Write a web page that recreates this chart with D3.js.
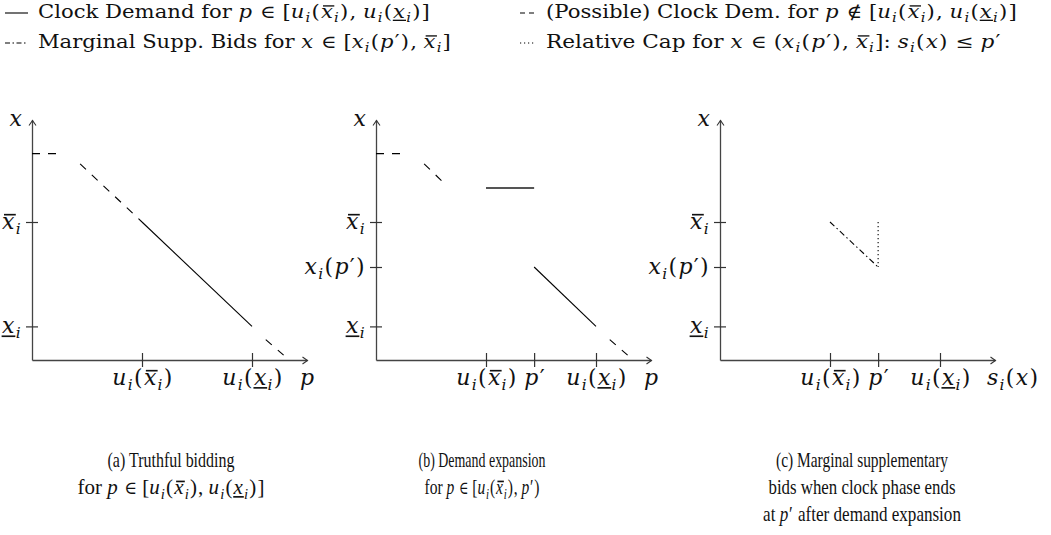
<!DOCTYPE html>
<html>
<head>
<meta charset="utf-8">
<script src="https://cdn.jsdelivr.net/npm/d3@7"></script>
<style>
body { margin: 0; background: #fff; }
svg { display: block; }
text { font-family: "DejaVu Serif", serif; fill: #111; }
.caption text { font-family: "Liberation Serif", serif; }
.caption tspan.sym { font-family: "DejaVu Serif", serif; }
</style>
</head>
<body>
<svg id="chart" width="1051" height="535"></svg>
<script>
// small helpers for the math-ish labels
const it = s => ({t: s, it: true, m: true});
const mr = s => ({t: s, m: true});
const rm = s => ({t: s});
const sy = s => ({t: s, sym: true});
const sb = s => ({t: s, it: true, sub: true, m: true});
const ov = s => ({t: s, it: true, deco: "over", m: true});
const un = s => ({t: s, it: true, deco: "under", m: true});

const U_BAR = [it("u"), sb("i"), mr("("), ov("x"), sb("i"), mr(")")];
const U_UNDER = [it("u"), sb("i"), mr("("), un("x"), sb("i"), mr(")")];
const P_PRIME = [it("p"), mr("′")];
const X_BAR = [ov("x"), sb("i")];
const X_UNDER = [un("x"), sb("i")];
const X_OF_P = [it("x"), sb("i"), mr("("), it("p"), mr("′"), mr(")")];
const S_OF_X = [it("s"), sb("i"), mr("("), it("x"), mr(")")];

// ---- data: price p on the horizontal axis, quantity x on the vertical ----
const priceTicksA = [4, 8];
const priceTicksBC = [4, 5.75, 8];
const priceLabelsA = [U_BAR, U_UNDER];
const priceLabelsBC = [U_BAR, P_PRIME, U_UNDER];

const qtyTicksA = [1.4, 5.75];
const qtyTicksBC = [1.4, 3.875, 5.75];
const qtyLabelsA = [X_UNDER, X_BAR];
const qtyLabelsBC = [X_UNDER, X_OF_P, X_BAR];

// panel (a)
const clockDemandA = [[4, 5.75], [8, 1.4]];
const possibleCapA = [[0, 8.6], [0.9, 8.6]];
const possibleHighA = [[1.75, 8.17], [4, 5.75]];
const possibleLowA = [[8.5, 0.85], [9.15, 0.2]];
// panel (b)
const clockDemandB = [[5.75, 3.875], [8, 1.4]];
const expansionB = [[4, 7.17], [5.75, 7.17]];
const possibleCapB = [[0, 8.6], [0.9, 8.6]];
const possibleHighB = [[1.75, 8.17], [2.45, 7.4]];
const possibleLowB = [[8.5, 0.85], [9.15, 0.2]];
// panel (c)
const suppBidsC = [[4, 5.75], [5.75, 3.875]];
const relCapC = [[5.75, 5.75], [5.75, 3.875]];

// legend and captions
const legendItems = [
  {kind: "solid", tokens: [rm("Clock Demand for "), it("p"), rm(" ∈ ["), ...U_BAR, rm(", "), ...U_UNDER, rm("]")]},
  {kind: "dashed", tokens: [rm("(Possible) Clock Dem. for "), it("p"), rm(" ∉ ["), ...U_BAR, rm(", "), ...U_UNDER, rm("]")]},
  {kind: "dashdot", tokens: [rm("Marginal Supp. Bids for "), it("x"), rm(" ∈ ["), ...X_OF_P, rm(", "), ...X_BAR, rm("]")]},
  {kind: "dotted", tokens: [rm("Relative Cap for "), it("x"), rm(" ∈ ("), ...X_OF_P, rm(", "), ...X_BAR, rm("]: "), ...S_OF_X, rm(" ≤ "), it("p"), mr("′")]}
];
const captionA = [[rm("(a) Truthful bidding")], [rm("for "), it("p"), rm(" "), sy("∈"), rm(" ["), ...U_BAR, rm(", "), ...U_UNDER, rm("]")]];
const captionB = [[rm("(b) Demand expansion")], [rm("for "), it("p"), rm(" "), sy("∈"), rm(" ["), ...U_BAR, rm(", "), it("p"), mr("′"), rm(")")]];
const captionC = [[rm("(c) Marginal supplementary")], [rm("bids when clock phase ends")], [rm("at "), it("p"), mr("′"), rm(" after demand expansion")]];

// ---- layout ----
const axisY0 = 360, plotW = 275, plotH = 240;
const dashes = {solid: null, dashed: "8,8", dashdot: "6,3,1.5,3", dotted: "1.2,2.8"};

const svg = d3.select("#chart");
svg.append("defs").append("marker")
  .attr("id", "arrow")
  .attr("viewBox", "-6 -5 8 10")
  .attr("markerUnits", "userSpaceOnUse")
  .attr("markerWidth", 8).attr("markerHeight", 10)
  .attr("refX", 0).attr("refY", 0)
  .attr("orient", "auto")
  .append("path")
  .attr("d", "M-5,-3.5L0,0L-5,3.5")
  .attr("fill", "none").attr("stroke", "#333").attr("stroke-width", 1.1);

// builds a text with italics, subscripts and over/underlined letters
function richText(parent, tokens, x, y, size, anchor, spacing, xh) {
  const g = parent.append("g");
  const t = g.append("text")
    .attr("x", x).attr("y", y)
    .attr("text-anchor", anchor || "start")
    .style("font-size", size + "px");
  const drop = size * 0.22;
  let inSub = false, idx = 0;
  const decos = [];
  tokens.forEach(tok => {
    const ts = t.append("tspan").text(tok.t);
    if (tok.it) ts.style("font-style", "italic");
    if (tok.sym) ts.attr("class", "sym").style("font-size", (size * 0.82) + "px");
    if (tok.m && spacing) ts.style("letter-spacing", spacing + "px");
    if (tok.sub) {
      ts.style("font-size", (size * 0.7) + "px");
      if (!inSub) { ts.attr("dy", drop); inSub = true; }
    } else if (inSub) {
      ts.attr("dy", -drop); inSub = false;
    }
    if (tok.deco) decos.push({idx, deco: tok.deco});
    idx += tok.t.length;
  });
  decos.forEach(d => {
    const e = t.node().getExtentOfChar(d.idx);
    const w = e.width - (spacing || 0);
    const over = d.deco === "over";
    const yy = over ? y - size * (xh || 0.56) - 2 : y + size * 0.13;
    g.append("line")
      .attr("x1", e.x + (over ? size * 0.09 : -size * 0.02))
      .attr("x2", e.x + w + (over ? size * 0.06 : size * 0.04))
      .attr("y1", yy).attr("y2", yy)
      .attr("stroke", "#111").attr("stroke-width", Math.max(1.2, size * 0.075));
  });
  return g;
}

function fitWidth(g, target, ax) {
  const w = g.node().getBBox().width;
  const s = target / w;
  g.attr("transform", `translate(${ax},0) scale(${s},1) translate(${-ax},0)`);
}

function drawPanel(x0, cfg) {
  const g = svg.append("g");
  const x = d3.scaleLinear().domain([0, 10]).range([x0, x0 + plotW]);
  const y = d3.scaleLinear().domain([0, 10]).range([axisY0, axisY0 - plotH]);
  const line = d3.line().x(d => x(d[0])).y(d => y(d[1]));

  const xAxis = g.append("g")
    .attr("transform", `translate(0,${axisY0})`)
    .call(d3.axisBottom(x).tickValues(cfg.pTicks).tickSize(7).tickSizeOuter(0).tickFormat(""));
  xAxis.selectAll(".tick line").attr("y1", -7);
  const yAxis = g.append("g")
    .attr("transform", `translate(${x0},0)`)
    .call(d3.axisLeft(y).tickValues(cfg.qTicks).tickSize(6).tickSizeOuter(0).tickFormat(""));
  yAxis.selectAll(".tick line").attr("x1", 6);
  g.selectAll(".domain").attr("stroke", "#444").attr("stroke-width", 1.3).attr("marker-end", "url(#arrow)");
  g.selectAll(".tick line").attr("stroke", "#333").attr("stroke-width", 1.2);

  cfg.pTicks.forEach((v, i) => richText(g, cfg.pLabels[i], x(v) + 1, axisY0 + 25, 22, "middle", 1.3));
  cfg.qTicks.forEach((v, i) => richText(g, cfg.qLabels[i], x0 - 10, y(v) + 7, 22, "end", 1.3));

  richText(g, [it("x")], x0 - 10, axisY0 - plotH + 6, 22, "end");
  if (cfg.sLabel) richText(g, S_OF_X, x0 + plotW - 8, axisY0 + 25, 22, "start", 1.3);
  else richText(g, [it("p")], x0 + plotW, axisY0 + 25, 22, "middle");

  cfg.series.forEach(s => {
    g.append("path")
      .datum(s.data)
      .attr("d", line)
      .attr("fill", "none")
      .attr("stroke", s.color || "#000")
      .attr("stroke-width", s.width || 1.1)
      .attr("stroke-dasharray", dashes[s.kind]);
  });
}

drawPanel(32, {
  pTicks: priceTicksA, pLabels: priceLabelsA, qTicks: qtyTicksA, qLabels: qtyLabelsA,
  series: [
    {data: clockDemandA, kind: "solid"},
    {data: possibleCapA, kind: "dashed"},
    {data: possibleHighA, kind: "dashed"},
    {data: possibleLowA, kind: "dashed"}
  ]
});
drawPanel(376, {
  pTicks: priceTicksBC, pLabels: priceLabelsBC, qTicks: qtyTicksBC, qLabels: qtyLabelsBC,
  series: [
    {data: clockDemandB, kind: "solid"},
    {data: expansionB, kind: "solid", color: "#555", width: 2},
    {data: possibleCapB, kind: "dashed"},
    {data: possibleHighB, kind: "dashed"},
    {data: possibleLowB, kind: "dashed"}
  ]
});
drawPanel(720, {
  pTicks: priceTicksBC, pLabels: priceLabelsBC, qTicks: qtyTicksBC, qLabels: qtyLabelsBC, sLabel: true,
  series: [
    {data: suppBidsC, kind: "dashdot"},
    {data: relCapC, kind: "dotted"}
  ]
});

// legend: two columns
const legendPos = [
  {sx: 5, tx: 38, y: 18, end: 430},
  {sx: 520, tx: 546, y: 18, end: 1017},
  {sx: 5, tx: 38, y: 48, end: 451},
  {sx: 520, tx: 546, y: 48, end: 1002}
];
const legend = svg.append("g");
legendItems.forEach((item, i) => {
  const p = legendPos[i];
  legend.append("line")
    .attr("x1", p.sx).attr("x2", p.tx - 10)
    .attr("y1", p.y - 5).attr("y2", p.y - 5)
    .attr("stroke", "#000").attr("stroke-width", 1.1)
    .attr("stroke-dasharray", item.kind === "dashed" ? "5,4" : item.kind === "dashdot" ? "5,2.5,1.5,2.5" : dashes[item.kind]);
  const t = richText(legend, item.tokens, p.tx, p.y, 18, "start", 1);
  fitWidth(t, p.end - p.tx, p.tx);
});

// captions
const captionPos = [
  {cx: 171, widths: [127, 187], lines: captionA},
  {cx: 482, widths: [127, 115], lines: captionB},
  {cx: 862, widths: [172, 187, 198], lines: captionC}
];
const captions = svg.append("g").attr("class", "caption");
captionPos.forEach(c => {
  c.lines.forEach((tokens, j) => {
    const t = richText(captions, tokens, c.cx, 467 + j * 27, 22, "middle", 1.2, 0.48);
    fitWidth(t, c.widths[j], c.cx);
  });
});
</script>
</body>
</html>
